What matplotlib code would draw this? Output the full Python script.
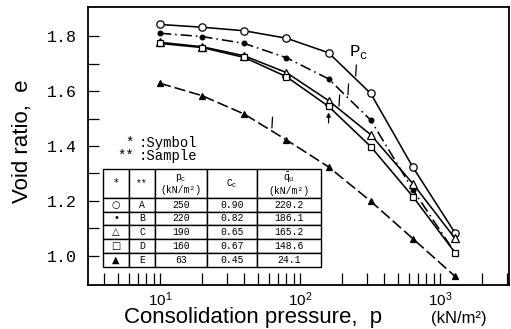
import numpy as np
import matplotlib
matplotlib.use("Agg")
import matplotlib.pyplot as plt
from matplotlib.ticker import FixedLocator, LogLocator, NullFormatter

# ---------------- data ----------------
pressure = [10, 20, 40, 80, 160, 320, 640, 1280]
e_A = [1.842, 1.832, 1.819, 1.792, 1.739, 1.591, 1.323, 1.084]
e_B = [1.810, 1.798, 1.773, 1.721, 1.644, 1.494, 1.241, 1.012]
e_C = [1.777, 1.761, 1.728, 1.667, 1.565, 1.441, 1.263, 1.064]
e_D = [1.773, 1.758, 1.722, 1.652, 1.544, 1.398, 1.216, 1.012]
e_E = [1.628, 1.583, 1.516, 1.422, 1.324, 1.199, 1.063, 0.926]

samples = ["A", "B", "C", "D", "E"]
symbols = ["○", "•", "△", "□", "▲"]
pc_vals = [250, 220, 190, 160, 63]
cc_vals = ["0.90", "0.82", "0.65", "0.67", "0.45"]
qu_vals = ["220.2", "186.1", "165.2", "148.6", "24.1"]

y_ticks = [1.0, 1.2, 1.4, 1.6, 1.8]
y_minor = [1.1, 1.3, 1.5, 1.7]

# ---------------- figure ----------------
fig = plt.figure(figsize=(5.11, 3.29), dpi=100)
ax = fig.add_axes([88 / 511, 44 / 329, 421 / 511, 278 / 329])

series = [e_A, e_B, e_C, e_D, e_E]
styles = [
    dict(ls="-", marker="o", mfc="white", ms=5.3),
    dict(ls=(0, (7, 2.5, 1, 2.5)), marker="o", mfc="black", ms=3.4),
    dict(ls="-", marker="^", mfc="white", ms=5.5),
    dict(ls="-", marker="s", mfc="white", ms=4.7),
    dict(ls=(0, (7, 2.5)), marker="^", mfc="black", ms=4.7),
]
for e, st in zip(series, styles):
    ax.plot(pressure, e, color="black", lw=1.15, mec="black", mew=0.9,
            zorder=3, **st)

# preconsolidation pressure marks
logp = np.log10(pressure)
for i, (e, pc) in enumerate(zip(series, pc_vals)):
    ypc = np.interp(np.log10(pc), logp, e)
    if samples[i] == "D":
        ax.annotate("", xy=(pc, ypc - 0.012), xytext=(pc, ypc - 0.07),
                    arrowprops=dict(arrowstyle="-|>", color="black", lw=0.9,
                                    mutation_scale=6))
    else:
        ax.plot([pc, pc * 1.01], [ypc + 0.012, ypc + 0.05], color="black",
                lw=0.9)

ax.text(262, 1.742, r"P$_{\mathregular{c}}$", fontsize=12.5,
        family="Liberation Mono", ha="center", va="center")

ax.set_xscale("log")
ax.set_xlim(3.06, 3110)
ax.set_ylim(0.8945, 1.9055)

ax.yaxis.set_major_locator(FixedLocator(y_ticks))
ax.yaxis.set_minor_locator(FixedLocator(y_minor))
ax.set_yticklabels([f"{v:.1f}" for v in y_ticks], family="Liberation Mono",
                   fontsize=12)
ax.xaxis.set_major_locator(LogLocator(base=10))
ax.xaxis.set_minor_locator(LogLocator(base=10, subs=np.arange(2, 10)))
ax.xaxis.set_minor_formatter(NullFormatter())
ax.tick_params(axis="x", which="both", direction="in", length=9, width=0.9,
               labelsize=11, pad=4)
ax.tick_params(axis="y", which="both", direction="in", length=8, width=0.9,
               pad=8)
for lab in ax.get_xticklabels():
    lab.set_family("Liberation Sans")
for sp in ax.spines.values():
    sp.set_linewidth(1.3)

# labels
fig.text(23 / 511, 1 - 141 / 329, "Void ratio,  e", rotation=90,
         family="Liberation Sans", fontsize=16, ha="center", va="center")
fig.text(253 / 511, 1 - 318 / 329, "Consolidation pressure,  p",
         family="Liberation Sans", fontsize=16, ha="center", va="center")
fig.text(459 / 511, 1 - 318 / 329, "(kN/m²)", family="Liberation Sans",
         fontsize=12, ha="center", va="center")

# key text
def axf(px, py):
    return (px - 88) / 421, (285 - py) / 278

x1, y1 = axf(134, 143)
x2, y2 = axf(139, 156)
ax.text(x1, y1, "*", transform=ax.transAxes, family="Liberation Mono",
        fontsize=10, ha="right", va="center")
ax.text(x1 + 0.012, y1, ":Symbol", transform=ax.transAxes,
        family="Liberation Mono", fontsize=10, ha="left", va="center")
ax.text(x1, y2, "**", transform=ax.transAxes, family="Liberation Mono",
        fontsize=10, ha="right", va="center")
ax.text(x1 + 0.012, y2, ":Sample", transform=ax.transAxes,
        family="Liberation Mono", fontsize=10, ha="left", va="center")

# table
header = ["*", "**", "p$_\\mathregular{c}$\n(kN/m²)", "C$_\\mathregular{c}$",
          "$\\bar{\\mathregular{q}}_\\mathregular{u}$\n(kN/m²)"]
rows = [[s, n, str(p), c, q] for s, n, p, c, q in
        zip(symbols, samples, pc_vals, cc_vals, qu_vals)]
tx0, ty0 = axf(103, 267)
tw, th = 218 / 421, 98 / 278
col_w = [26, 26, 52, 50, 64]
tab = ax.table(cellText=rows, colLabels=header, cellLoc="center",
               colWidths=[w / 218 for w in col_w],
               bbox=[tx0, ty0, tw, th])
tab.auto_set_font_size(False)
for (r, c), cell in tab.get_celld().items():
    cell.set_linewidth(1.0)
    cell.set_edgecolor("black")
    cell.set_facecolor("white")
    cell.set_height(29 if r == 0 else 14)
    t = cell.get_text()
    t.set_fontsize(7)
    t.set_family("Liberation Mono")
    if c == 0:
        t.set_family("DejaVu Sans")
        t.set_fontsize(7)
tab.set_zorder(4)

fig.savefig("out.png", dpi=100)
